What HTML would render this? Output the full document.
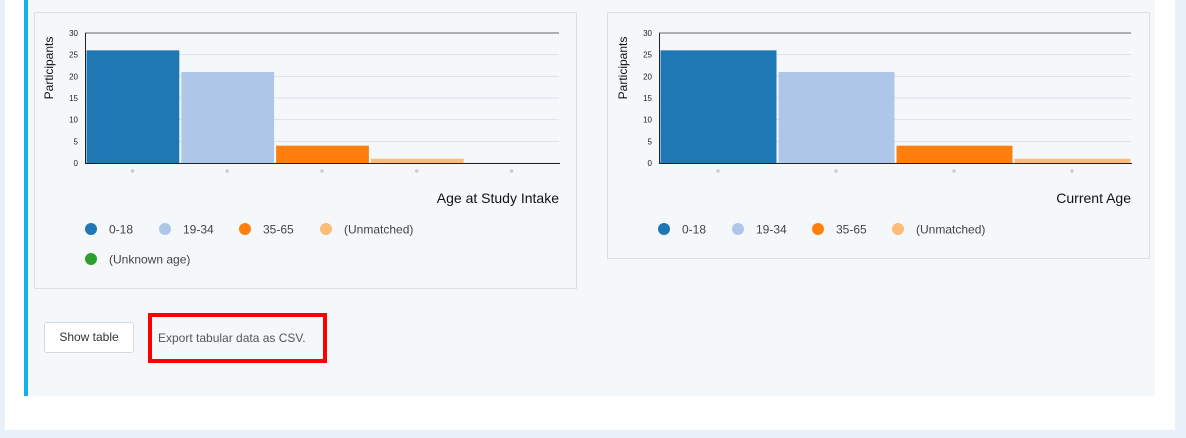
<!DOCTYPE html>
<html><head><meta charset="utf-8"><style>
body{margin:0;width:1186px;height:438px;background:#e8f1fa;font-family:"Liberation Sans",sans-serif;position:relative;overflow:hidden}
#white{position:absolute;left:5px;top:0;width:1170px;height:430px;background:#fff}
#inner{position:absolute;left:24px;top:0;width:1131px;height:396px;background:#f5f8fb;border-left:4px solid #13b0ec;box-sizing:border-box}
.box{position:absolute;border:1px solid #dcdfe2;box-sizing:border-box}
svg{position:absolute;left:0;top:0}
#btn{position:absolute;left:44px;top:322px;width:90px;height:31px;background:#fff;border:1px solid #d6d9dc;border-radius:3px;box-sizing:border-box;font-size:12px;color:#333;text-align:center;line-height:29px}
#csv{position:absolute;left:148px;top:313px;width:179px;height:50px;border:4px solid #f00;box-sizing:border-box;font-size:12px;color:#555;padding-left:6px;line-height:42px}
</style></head><body>
<div id="white"></div>
<div id="inner"></div>
<div class="box" style="left:34px;top:12px;width:543px;height:277px"></div>
<div class="box" style="left:607px;top:12px;width:543px;height:247px"></div>
<svg id="svg" width="1186" height="438"></svg>
<div id="btn">Show table</div>
<div id="csv">Export tabular data as CSV.</div>
<script>
const categories1=["0-18","19-34","35-65","(Unmatched)","(Unknown age)"];
const values1=[26,21,4,1,0];
const categories2=["0-18","19-34","35-65","(Unmatched)"];
const values2=[26,21,4,1];
const yTicks=[0,5,10,15,20,25,30];
const colors=["#1f77b4","#aec7e8","#ff7f0e","#ffbb78","#2ca02c"];
const NS="http://www.w3.org/2000/svg";
const svg=document.getElementById('svg');
function mk(t,a,txt){const e=document.createElementNS(NS,t);for(const k in a)e.setAttribute(k,a[k]);if(txt!==undefined)e.textContent=txt;svg.appendChild(e);return e;}
function chart(o){
  const y=v=>o.bottom-(v/30)*(o.bottom-o.top);
  yTicks.forEach(t=>{
    const l=mk('line',{x1:o.left,x2:o.right,y1:y(t),y2:y(t),stroke:t==30?'#666':'#dde1e5','stroke-width':1});
    
    const tx=mk('text',{x:o.left-7,y:y(t)+3,'font-size':8,'text-anchor':'end',fill:'#222'},t);
    
  });
  const bw=(o.right-o.left)/o.cats.length;
  o.vals.forEach((v,i)=>{
    const x=o.left+i*bw;
    if(v>0){const r=mk('rect',{x:x+1.5,y:y(v),width:bw-2,height:o.bottom-y(v),fill:colors[i]});
    }
    const d=mk('circle',{cx:x+bw/2,cy:o.bottom+8,r:1.8,fill:'#ccc'});
    
  });
  const ax=mk('path',{d:`M${o.left+0.5} ${o.top}V${o.bottom+0.5}H${o.right+1}`,stroke:'#222',fill:'none','stroke-width':1});
  
  const yl=mk('text',{transform:`translate(${o.left-32},${(o.top+o.bottom)/2-30}) rotate(-90)`,'font-size':12,'text-anchor':'middle',fill:'#111'},'Participants');
  
  const xl=mk('text',{x:o.right,y:203,'font-size':14,'text-anchor':'end',fill:'#111'},o.title);
  
  o.cats.forEach((c,i)=>{
    const p=o.leg[i];
    const cc=mk('circle',{cx:p[0],cy:p[1],r:6,fill:colors[i]});
    
    const t=mk('text',{x:p[0]+18,y:p[1]+4.5,'font-size':12,fill:'#444'},c);
    
  });
}
chart({id:'intake',left:85,right:559,top:33,bottom:163,cats:categories1,vals:values1,title:'Age at Study Intake',leg:[[91,229],[165,229],[245,229],[326,229],[91,259]]});
chart({id:'current',left:659,right:1131,top:33,bottom:163,cats:categories2,vals:values2,title:'Current Age',leg:[[664,229],[738,229],[818,229],[898,229]]});
</script>
</body></html>
